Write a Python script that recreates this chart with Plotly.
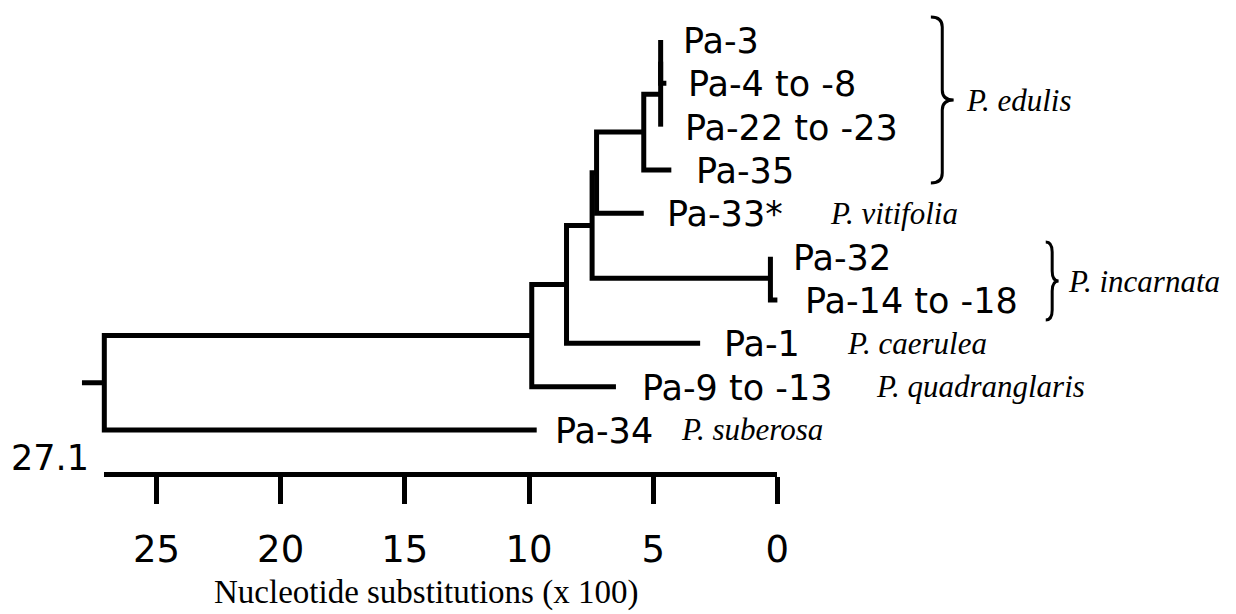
import plotly.graph_objects as go

# ---------------- data ----------------
leaf_names = ["Pa-3", "Pa-4 to -8", "Pa-22 to -23", "Pa-35", "Pa-33*",
              "Pa-32", "Pa-14 to -18", "Pa-1", "Pa-9 to -13", "Pa-34"]
leaf_depth = [4.70, 4.47, 4.70, 4.27, 5.38, 0.28, 0.0, 3.11, 6.50, 9.69]

node_names = ["G1", "G2", "F", "C1", "D", "C2", "B", "A", "Root"]
node_children = [("Pa-3", "Pa-4 to -8"), ("G1", "Pa-22 to -23"), ("G2", "Pa-35"),
                 ("F", "Pa-33*"), ("Pa-32", "Pa-14 to -18"), ("C1", "D"),
                 ("C2", "Pa-1"), ("B", "Pa-9 to -13"), ("A", "Pa-34")]
node_depth = [4.70, 4.70, 5.38, 7.28, 0.28, 7.46, 8.49, 9.89, 27.1]
root_stub = 0.9

species_single = {"Pa-33*": "P. vitifolia", "Pa-1": "P. caerulea",
                  "Pa-9 to -13": "P. quadranglaris", "Pa-34": "P. suberosa"}
species_group = [("P. edulis", ["Pa-3", "Pa-4 to -8", "Pa-22 to -23", "Pa-35"]),
                 ("P. incarnata", ["Pa-32", "Pa-14 to -18"])]

axis_max = 27.1
tick_vals = [25, 20, 15, 10, 5, 0]
axis_title = "Nucleotide substitutions (x 100)"

# ---------------- layout geometry (pixels) ----------------
W, H = 1236, 614
X0 = 785.0      # pixel of value 0
S = 25.08       # pixels per unit
R0 = 40.0       # pixel of first leaf row
RS = 43.33      # pixels per row
AXIS_Y = 472.0  # pixel of scale bar line

def vx(px):
    return (X0 - px) / S

def vy(py):
    return (py - R0) / RS

# gap (px) between leaf tip and its label
label_gap = [20, 20, 22, 23, 21, 21, 26, 22, 24, 16]
# species label left edges (px)
species_left = {"P. vitifolia": 836, "P. caerulea": 853, "P. quadranglaris": 883,
                "P. suberosa": 686, "P. edulis": 973, "P. incarnata": 1076}
brace_px = {"P. edulis": (940, 963, 17, 183), "P. incarnata": (1056, 1069, 242, 320)}

# ---------------- build tree ----------------
pos = {}
for i, n in enumerate(leaf_names):
    pos[n] = (leaf_depth[i], float(i))
for n, ch, d in zip(node_names, node_children, node_depth):
    ys = [pos[c][1] for c in ch]
    pos[n] = (d, sum(ys) / len(ys))

xs, ys = [], []
for n, ch, d in zip(node_names, node_children, node_depth):
    (x1, y1), (x2, y2) = pos[ch[0]], pos[ch[1]]
    xs += [x1, d, d, x2, None]
    ys += [y1, y1, y2, y2, None]
rx, ry = pos["Root"]
xs += [rx, rx + root_stub, None]
ys += [ry, ry, None]

fig = go.Figure()
fig.add_trace(go.Scatter(x=xs, y=ys, mode="lines",
                         line=dict(color="black", width=5),
                         hoverinfo="skip", showlegend=False))
fig.add_trace(go.Scatter(x=[axis_max, 0], y=[0, 0], xaxis="x2", yaxis="y2",
                         mode="markers", marker=dict(opacity=0),
                         hoverinfo="skip", showlegend=False))

LABEL_FONT = dict(family="DejaVu Sans", size=35, color="black")
SPECIES_FONT = dict(family="Liberation Serif", size=31, color="black")

ann = []
for i, n in enumerate(leaf_names):
    ann.append(dict(x=leaf_depth[i], y=i, xref="x", yref="y", text=n,
                    xanchor="left", yanchor="middle", xshift=label_gap[i], yshift=-1,
                    showarrow=False, font=LABEL_FONT))
for n, sp in species_single.items():
    ann.append(dict(x=vx(species_left[sp]), y=leaf_names.index(n), xref="x", yref="y",
                    text="<i>%s</i>" % sp, xanchor="left", yanchor="middle",
                    showarrow=False, font=SPECIES_FONT))

shapes = []
for sp, members in species_group:
    xl, xt, y0, y1 = brace_px[sp]
    ym = (y0 + y1) / 2.0
    xm = (xl + xt) / 2.0
    r = 10
    pts = [("M", xl, y0), ("Q", xm, y0, xm, y0 + r), ("L", xm, ym - r),
           ("Q", xm, ym, xt, ym), ("Q", xm, ym, xm, ym + r), ("L", xm, y1 - r),
           ("Q", xm, y1, xl, y1)]
    path = ""
    for p in pts:
        cmd = p[0]
        coords = p[1:]
        segs = []
        for k in range(0, len(coords), 2):
            segs.append("%.4f,%.4f" % (vx(coords[k]), vy(coords[k + 1])))
        path += cmd + " " + " ".join(segs) + " "
    shapes.append(dict(type="path", path=path.strip(), xref="x", yref="y",
                       line=dict(color="black", width=3)))
    ann.append(dict(x=vx(species_left[sp]), y=vy(ym), xref="x", yref="y",
                    text="<i>%s</i>" % sp, xanchor="left", yanchor="middle",
                    showarrow=False, font=SPECIES_FONT))

ann.append(dict(x=axis_max, y=(H - 458) / H, xref="x2", yref="paper", text="27.1",
                xanchor="right", yanchor="middle", xshift=-13, showarrow=False,
                font=dict(family="DejaVu Sans", size=35, color="black")))
ann.append(dict(x=430 / W, y=(H - 592) / H, xref="paper", yref="paper", text=axis_title,
                xanchor="center", yanchor="middle", showarrow=False,
                font=dict(family="Liberation Serif", size=33, color="black")))

y2_bottom = (H - AXIS_Y) / H
fig.update_layout(
    width=W, height=H, autosize=False,
    margin=dict(l=0, r=0, t=0, b=0),
    paper_bgcolor="white", plot_bgcolor="rgba(0,0,0,0)",
    showlegend=False,
    xaxis=dict(domain=[0, 1], range=[vx(0), vx(W)], visible=False, fixedrange=True),
    yaxis=dict(domain=[0, 1], range=[vy(H), vy(0)], visible=False, fixedrange=True),
    xaxis2=dict(domain=[(X0 - axis_max * S) / W, X0 / W], range=[axis_max, 0],
                anchor="y2", side="bottom", showline=True, linewidth=5, linecolor="black",
                ticks="outside", ticklen=27, tickwidth=5, tickcolor="black",
                tickvals=tick_vals, ticktext=[str(t) for t in tick_vals],
                tickfont=dict(family="DejaVu Sans", size=37, color="black"),
                ticklabelstandoff=14,
                showgrid=False, zeroline=False, fixedrange=True),
    yaxis2=dict(domain=[y2_bottom, y2_bottom + 0.05], range=[0, 1], visible=False,
                fixedrange=True),
    annotations=ann, shapes=shapes,
)

fig.write_html("out.html")
